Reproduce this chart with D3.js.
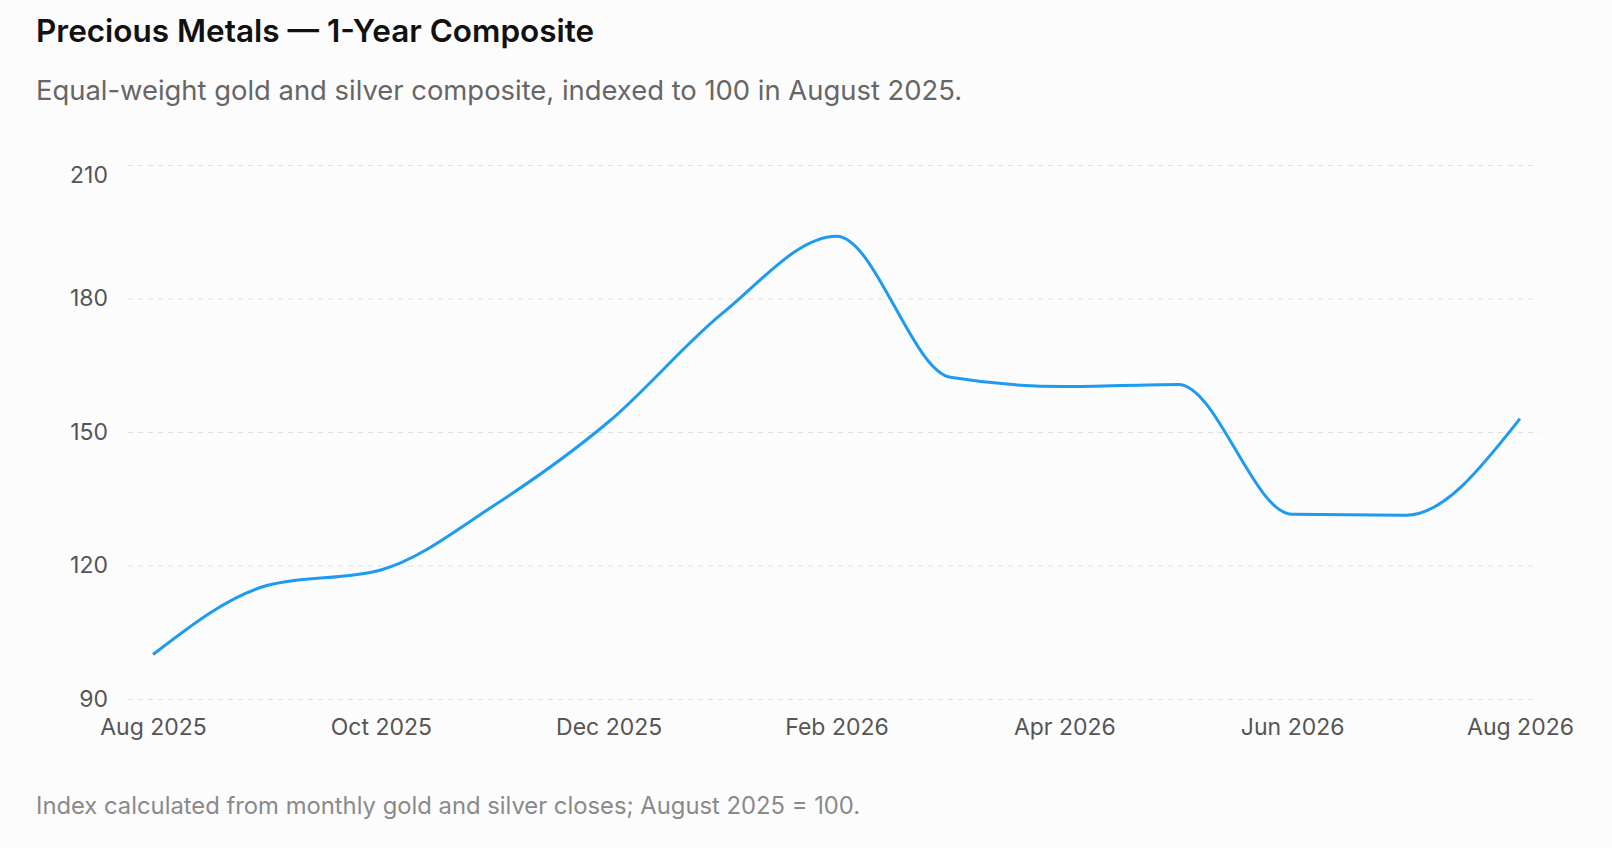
<!DOCTYPE html>
<html lang="en">
<head>
    <meta charset="UTF-8">
    <title>Precious Metals — 1-Year Composite</title>
    <script src="https://cdn.jsdelivr.net/npm/d3@7"></script>
</head>
<style>
    html, body {
        margin: 0;
        padding: 0;
        background: #fcfcfc;
    }
    body {
        font-family: Inter, "Noto Sans", sans-serif;
    }
    .grid line {
        stroke: #dedede;
        stroke-dasharray: 5,5;
    }
    .tick text {
        fill: #555;
        font-size: 23px;
        font-family: Inter, "Noto Sans", sans-serif;
    }
</style>
<body>
<script>
    const months = ["Aug 2025", "Sep 2025", "Oct 2025", "Nov 2025", "Dec 2025", "Jan 2026",
        "Feb 2026", "Mar 2026", "Apr 2026", "May 2026", "Jun 2026", "Jul 2026", "Aug 2026"];
    const composite = [100, 115.5, 119, 133.6, 152.3, 176.7, 194, 162.3, 160.2, 160.7, 131.5, 131.3, 153];
    const xTickLabels = ["Aug 2025", "Oct 2025", "Dec 2025", "Feb 2026", "Apr 2026", "Jun 2026", "Aug 2026"];
    const yTicks = [90, 120, 150, 180, 210];

    const W = 1612, H = 848;

    const svg = d3.select("body")
            .append("svg")
            .attr("width", W)
            .attr("height", H);

    svg.append("text")
            .attr("x", 36).attr("y", 42)
            .attr("font-size", 31.5)
            .attr("font-weight", 600)
            .attr("fill", "#111")
            .text("Precious Metals — 1-Year Composite");

    svg.append("text")
            .attr("x", 36).attr("y", 100)
            .attr("font-size", 27.4)
            .attr("fill", "#666")
            .text("Equal-weight gold and silver composite, indexed to 100 in August 2025.");

    const x = d3.scalePoint()
            .domain(months)
            .range([153, 1520]);

    const y = d3.scaleLinear()
            .domain([90, 210])
            .range([699, 165]);

    // horizontal dashed grid + y labels
    const yAxis = svg.append("g")
            .attr("class", "grid")
            .attr("transform", "translate(128,0)")
            .call(d3.axisLeft(y)
                    .tickValues(yTicks)
                    .tickSize(-(1539 - 128))
                    .tickPadding(20));
    yAxis.select(".domain").remove();
    yAxis.selectAll(".tick text")
            .attr("dy", d => d === 210 ? "0.75em" : "0.32em");

    const xAxis = svg.append("g")
            .attr("transform", "translate(0,699)")
            .call(d3.axisBottom(x)
                    .tickValues(xTickLabels)
                    .tickSize(0)
                    .tickPadding(20));
    xAxis.select(".domain").remove();

    const line = d3.line()
            .x((d, i) => x(months[i]))
            .y(d => y(d))
            .curve(d3.curveMonotoneX);

    svg.append("path")
            .datum(composite)
            .attr("d", line)
            .attr("fill", "none")
            .attr("stroke", "#1d9bf0")
            .attr("stroke-width", 3);

    svg.append("text")
            .attr("x", 36).attr("y", 814)
            .attr("font-size", 23.8)
            .attr("fill", "#8a8a8a")
            .text("Index calculated from monthly gold and silver closes; August 2025 = 100.");
</script>
</body>
</html>
